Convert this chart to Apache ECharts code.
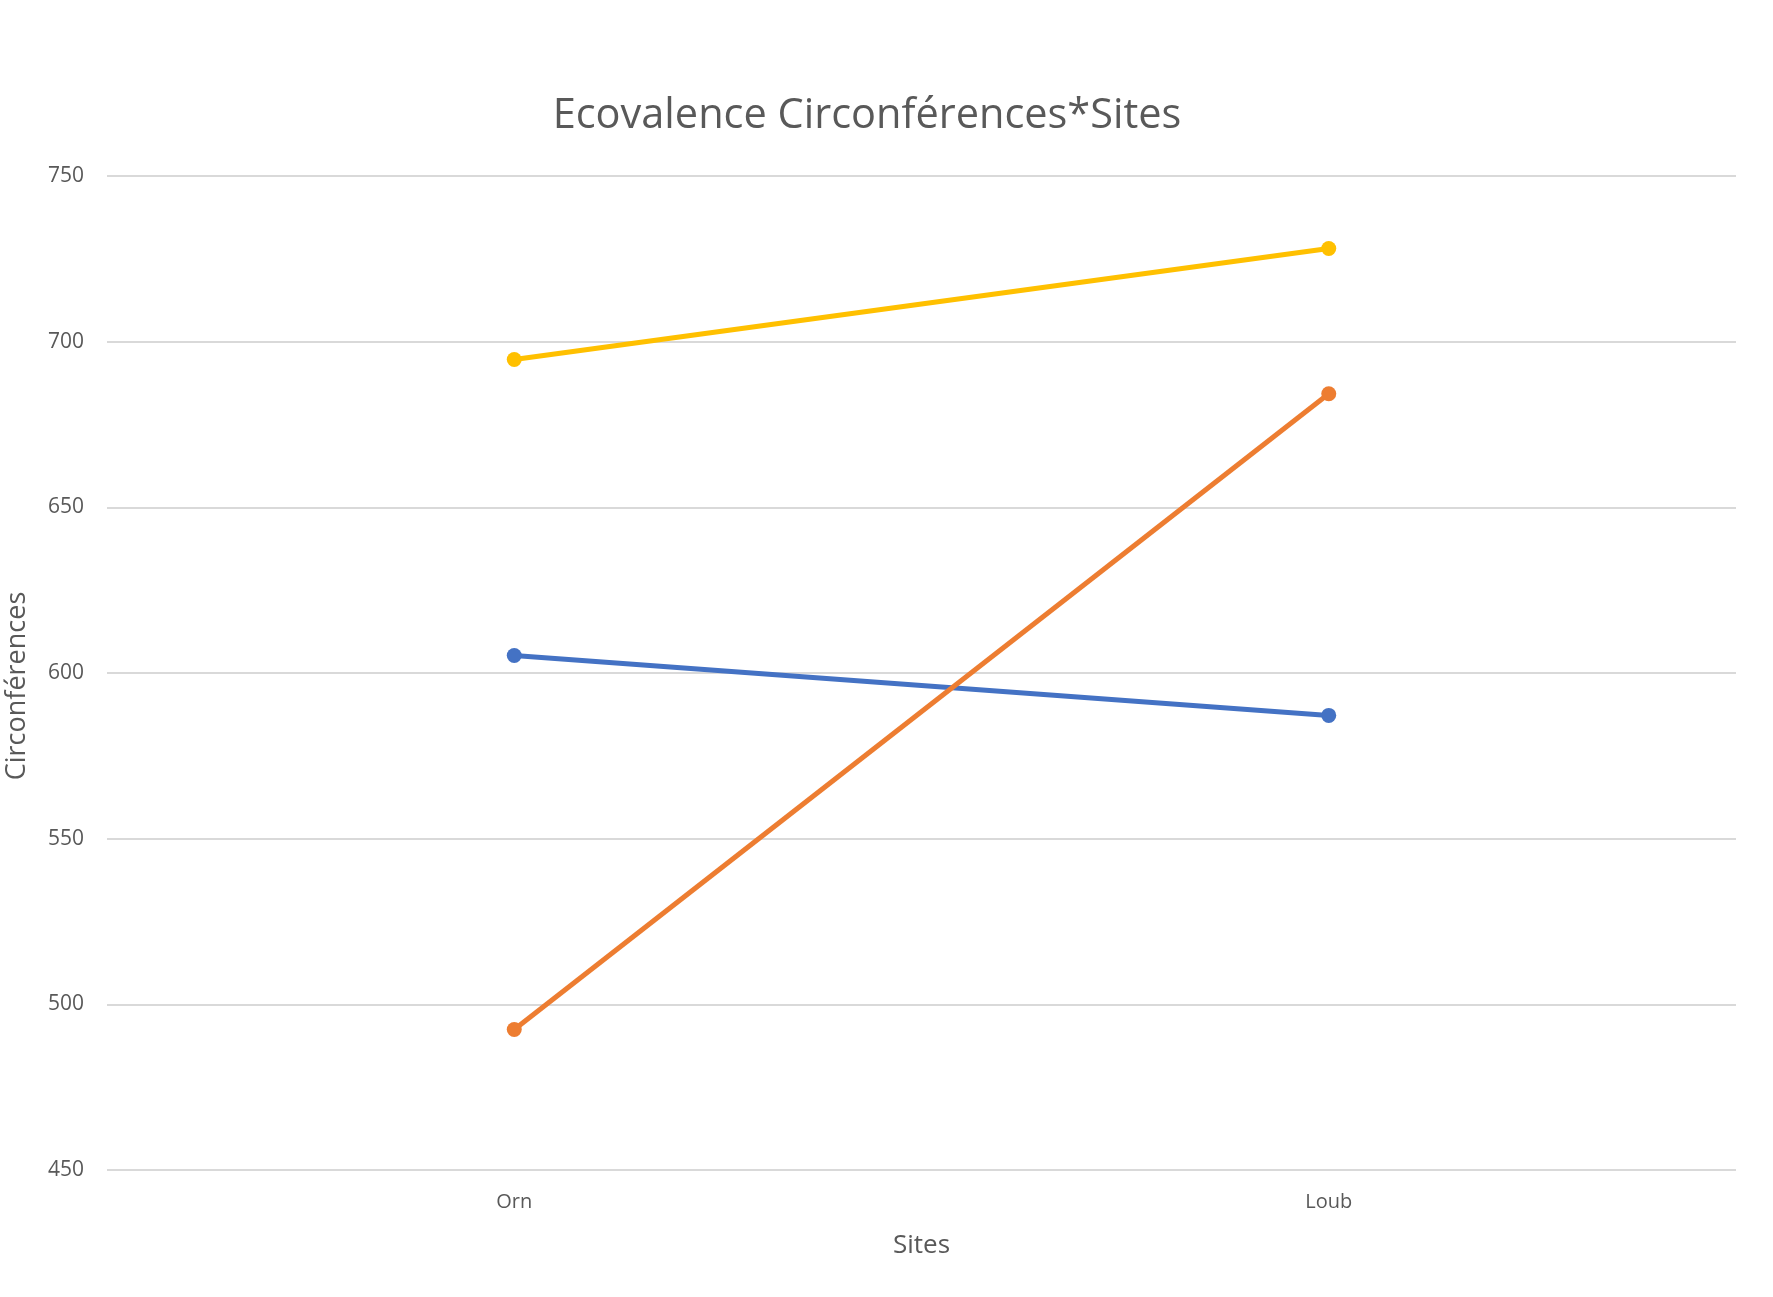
<!DOCTYPE html>
<html>
<head>
<meta charset="utf-8">
<title>Ecovalence Circonférences*Sites</title>
<script src="https://cdn.jsdelivr.net/npm/echarts@6/dist/echarts.min.js"></script>
<style>
    html, body {margin: 0; padding: 0; background: #fff;}
    #chart {width: 1773px; height: 1297px;}
</style>
</head>
<body>
<div id="chart"></div>
<script>
// sites en abscisse
var sites = ['Orn', 'Loub'];
// valeurs
var serie1 = [605.3, 587.2];
var serie2 = [492.4, 684.3];
var serie3 = [694.6, 728.1];
var seriesNames = ['Série 1', 'Série 2', 'Série 3'];
var seriesColors = ['#4472C4', '#ED7D31', '#FFC000'];

var fontFamily = '"Open Sans", "Noto Sans", sans-serif';
var textColor = '#595959';

function makeLine(name, data, color) {
    return {
        name: name,
        type: 'line',
        data: data,
        symbol: 'circle',
        symbolSize: 15,
        lineStyle: {width: 5, color: color},
        itemStyle: {color: color},
        emphasis: {disabled: true}
    };
}

var chart = echarts.init(document.getElementById('chart'));
var option = {
    animation: false,
    backgroundColor: '#fff',
    title: {
        text: 'Ecovalence Circonférences*Sites',
        left: 862,
        top: 90,
        textAlign: 'center',
        textStyle: {
            color: textColor,
            fontFamily: fontFamily,
            fontWeight: 'normal',
            fontSize: 41.5
        }
    },
    grid: {left: 107, right: 37, top: 176, bottom: 127, containLabel: false, outerBoundsMode: 'none'},
    xAxis: {
        type: 'category',
        data: sites,
        boundaryGap: true,
        name: 'Sites',
        nameLocation: 'middle',
        nameGap: 63,
        nameTextStyle: {color: textColor, fontFamily: fontFamily, fontSize: 26},
        axisLine: {show: false},
        axisTick: {show: false},
        axisLabel: {color: textColor, fontFamily: fontFamily, fontSize: 20, margin: 22}
    },
    yAxis: {
        type: 'value',
        min: 450,
        max: 750,
        interval: 50,
        name: 'Circonférences',
        nameLocation: 'middle',
        nameGap: 76,
        nameTextStyle: {color: textColor, fontFamily: fontFamily, fontSize: 27, padding: [0, 26, 0, 0]},
        axisLine: {show: false},
        axisTick: {show: false},
        axisLabel: {color: textColor, fontFamily: fontFamily, fontSize: 21, margin: 23},
        splitLine: {lineStyle: {color: '#d9d9d9', width: 2}}
    },
    series: [
        makeLine(seriesNames[0], serie1, seriesColors[0]),
        makeLine(seriesNames[1], serie2, seriesColors[1]),
        makeLine(seriesNames[2], serie3, seriesColors[2])
    ]
};
chart.setOption(option);

window.addEventListener('resize', function () {
    chart.resize();
});
</script>
</body>
</html>
